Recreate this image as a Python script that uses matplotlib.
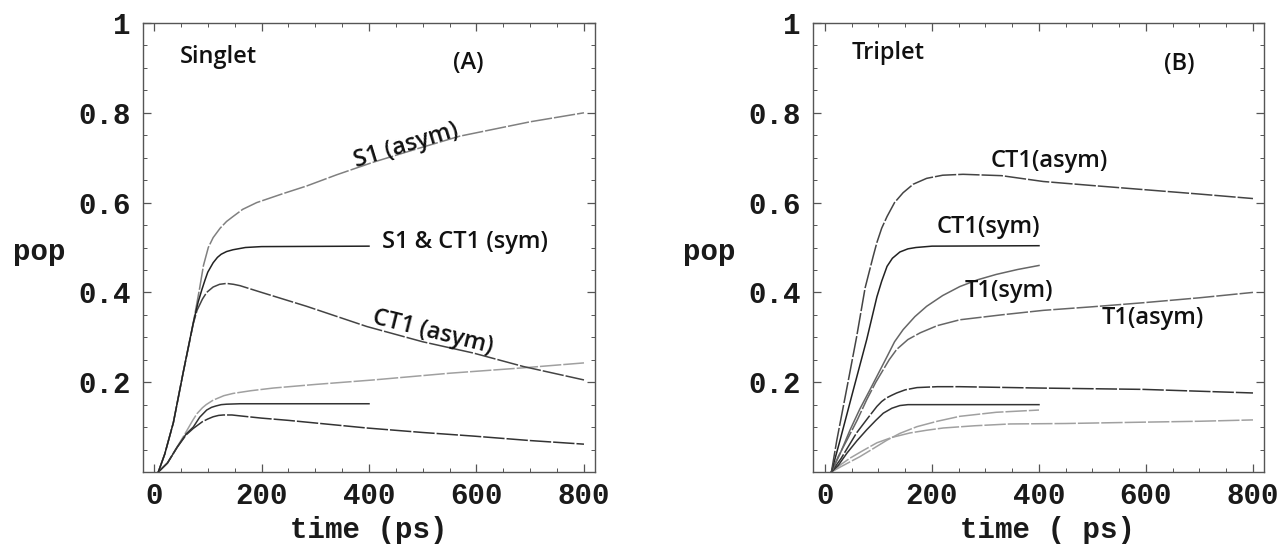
import matplotlib
matplotlib.use("Agg")
import matplotlib.pyplot as plt
from matplotlib.ticker import MultipleLocator, FixedLocator

# ---------------- data ----------------
# Panel A: Singlet
A_S1_asym_t = [8, 20, 36, 54, 73, 85, 92, 101, 110, 123, 135, 147, 165, 191, 240, 284, 340, 408, 490, 569, 700, 800]
A_S1_asym_y = [0, 0.04, 0.11, 0.22, 0.332, 0.41, 0.46, 0.50, 0.522, 0.543, 0.558, 0.569, 0.585, 0.60, 0.62, 0.637, 0.662, 0.69, 0.72, 0.748, 0.78, 0.80]

A_sym_t = [8, 20, 36, 54, 73, 82, 89, 95, 100, 110, 118, 125, 135, 147, 170, 200, 400]
A_sym_y = [0, 0.04, 0.11, 0.22, 0.332, 0.378, 0.406, 0.428, 0.445, 0.466, 0.478, 0.485, 0.491, 0.495, 0.50, 0.502, 0.503]

A_CT1_asym_t = [8, 20, 36, 54, 73, 80, 90, 98, 110, 122, 135, 148, 160, 200, 284, 396, 500, 594, 687, 800]
A_CT1_asym_y = [0, 0.04, 0.11, 0.22, 0.33, 0.36, 0.385, 0.40, 0.412, 0.418, 0.42, 0.418, 0.415, 0.40, 0.369, 0.324, 0.29, 0.265, 0.235, 0.205]

A_low_dash_t = [8, 25, 43, 60, 72, 80, 90, 97, 110, 130, 147, 180, 222, 300, 408, 550, 687, 800]
A_low_dash_y = [0, 0.02, 0.056, 0.09, 0.115, 0.13, 0.143, 0.15, 0.16, 0.17, 0.175, 0.181, 0.187, 0.195, 0.205, 0.22, 0.232, 0.243]

A_low_flat_t = [8, 25, 43, 60, 73, 85, 98, 107, 115, 125, 135, 160, 400]
A_low_flat_y = [0, 0.02, 0.055, 0.085, 0.10, 0.122, 0.138, 0.144, 0.147, 0.15, 0.151, 0.152, 0.152]

A_low_decr_t = [8, 25, 43, 60, 73, 90, 100, 110, 120, 129, 145, 160, 200, 250, 396, 500, 594, 700, 800]
A_low_decr_y = [0, 0.02, 0.055, 0.083, 0.097, 0.112, 0.118, 0.123, 0.126, 0.127, 0.127, 0.125, 0.12, 0.115, 0.098, 0.088, 0.08, 0.07, 0.062]

# Panel B: Triplet
B_CT1_asym_t = [12, 22, 43, 59, 75, 90, 97, 106, 116, 130, 146, 165, 190, 220, 258, 330, 408, 500, 595, 700, 800]
B_CT1_asym_y = [0, 0.07, 0.2, 0.3, 0.41, 0.48, 0.511, 0.543, 0.569, 0.60, 0.622, 0.641, 0.654, 0.661, 0.663, 0.66, 0.647, 0.638, 0.629, 0.619, 0.609]

B_CT1_sym_t = [12, 28, 53, 78, 90, 97, 106, 116, 126, 140, 155, 170, 200, 400]
B_CT1_sym_y = [0, 0.07, 0.183, 0.295, 0.355, 0.39, 0.425, 0.458, 0.476, 0.49, 0.497, 0.50, 0.503, 0.504]

B_T1_sym_t = [12, 28, 47, 65, 84, 100, 116, 130, 146, 168, 190, 220, 252, 285, 320, 360, 400]
B_T1_sym_y = [0, 0.04, 0.094, 0.14, 0.183, 0.22, 0.257, 0.29, 0.317, 0.346, 0.369, 0.393, 0.413, 0.428, 0.44, 0.451, 0.46]

B_T1_asym_t = [12, 25, 41, 60, 78, 95, 109, 120, 134, 155, 178, 210, 252, 330, 408, 500, 595, 700, 800]
B_T1_asym_y = [0, 0.035, 0.071, 0.115, 0.161, 0.2, 0.228, 0.25, 0.273, 0.295, 0.31, 0.326, 0.339, 0.35, 0.36, 0.368, 0.377, 0.388, 0.40]

B_low1_t = [12, 30, 59, 80, 97, 106, 115, 125, 134, 150, 172, 210, 252, 400, 595, 800]
B_low1_y = [0, 0.03, 0.087, 0.12, 0.146, 0.157, 0.165, 0.171, 0.176, 0.183, 0.188, 0.19, 0.19, 0.187, 0.184, 0.176]

B_low2_t = [12, 25, 41, 60, 78, 95, 109, 125, 140, 155, 170, 250, 400]
B_low2_y = [0, 0.015, 0.042, 0.07, 0.094, 0.115, 0.131, 0.142, 0.148, 0.15, 0.15, 0.15, 0.15]

B_low3_t = [12, 30, 65, 90, 116, 140, 172, 210, 252, 320, 400]
B_low3_y = [0, 0.012, 0.034, 0.052, 0.071, 0.086, 0.101, 0.113, 0.124, 0.133, 0.138]

B_low4_t = [12, 30, 47, 70, 97, 125, 159, 190, 221, 280, 346, 450, 595, 700, 800]
B_low4_y = [0, 0.017, 0.031, 0.047, 0.065, 0.077, 0.087, 0.093, 0.098, 0.103, 0.107, 0.108, 0.111, 0.113, 0.116]

x_ticks = [0, 200, 400, 600, 800]
x_tick_labels = ["0", "200", "400", "600", "800"]
y_ticks = [0.2, 0.4, 0.6, 0.8, 1.0]
y_tick_labels = ["0.2", "0.4", "0.6", "0.8", "1"]

# ---------------- figure ----------------
W, H = 1282, 545
fig = plt.figure(figsize=(W / 100, H / 100), dpi=100)

mono = "Liberation Mono"
sans = "Open Sans"
tick_fs = 21
ann_fs = 17
DASH = (0, (14, 1.3))

def px_axes(x0, x1, y_top, y_bot):
    return [x0 / W, 1 - y_bot / H, (x1 - x0) / W, (y_bot - y_top) / H]

axA = fig.add_axes(px_axes(143, 595, 23, 472))
axB = fig.add_axes(px_axes(813, 1264, 23, 472))

def style(ax, xlim):
    ax.set_xlim(*xlim)
    ax.set_ylim(0, 1)
    ax.xaxis.set_major_locator(FixedLocator(x_ticks))
    ax.set_xticklabels(x_tick_labels)
    ax.yaxis.set_major_locator(FixedLocator(y_ticks))
    ax.set_yticklabels(y_tick_labels)
    ax.xaxis.set_minor_locator(MultipleLocator(50))
    ax.yaxis.set_minor_locator(MultipleLocator(0.05))
    ax.tick_params(which="both", direction="in", top=True, right=True, color="#555555")
    ax.tick_params(which="major", length=6, width=0.9)
    ax.tick_params(which="minor", length=3, width=0.7)
    ax.tick_params(axis="x", which="major", pad=7)
    ax.tick_params(axis="y", which="major", pad=9)
    for lab in ax.get_xticklabels() + ax.get_yticklabels():
        lab.set_fontfamily(mono)
        lab.set_fontweight("bold")
        lab.set_fontsize(tick_fs)
        lab.set_color("#1a1a1a")
    for sp in ax.spines.values():
        sp.set_linewidth(1.0)
        sp.set_color("#555555")

style(axA, (-20.5, 820.5))
style(axB, (-22.4, 820.6))

lw = 1.1
# Panel A curves
axA.plot(A_low_dash_t, A_low_dash_y, color="#a0a0a0", lw=lw, ls=DASH)
axA.plot(A_low_flat_t, A_low_flat_y, color="#333333", lw=lw)
axA.plot(A_low_decr_t, A_low_decr_y, color="#333333", lw=lw, ls=DASH)
axA.plot(A_CT1_asym_t, A_CT1_asym_y, color="#444444", lw=lw, ls=DASH)
axA.plot(A_S1_asym_t, A_S1_asym_y, color="#808080", lw=lw, ls=DASH)
axA.plot(A_sym_t, A_sym_y, color="#222222", lw=lw)

# Panel B curves
axB.plot(B_low4_t, B_low4_y, color="#a0a0a0", lw=lw, ls=DASH)
axB.plot(B_low3_t, B_low3_y, color="#a0a0a0", lw=lw, ls=DASH)
axB.plot(B_low2_t, B_low2_y, color="#333333", lw=lw)
axB.plot(B_low1_t, B_low1_y, color="#333333", lw=lw, ls=DASH)
axB.plot(B_T1_asym_t, B_T1_asym_y, color="#666666", lw=lw, ls=DASH)
axB.plot(B_T1_sym_t, B_T1_sym_y, color="#666666", lw=lw)
axB.plot(B_CT1_sym_t, B_CT1_sym_y, color="#222222", lw=lw)
axB.plot(B_CT1_asym_t, B_CT1_asym_y, color="#444444", lw=lw, ls=DASH)

# Annotations
ann = dict(fontfamily=sans, fontsize=ann_fs, color="#111111", fontweight="semibold")
axA.text(48, 0.924, "Singlet", ha="left", va="center", **ann)
axA.text(584, 0.911, "(A)", ha="center", va="center", **ann)
axA.text(470, 0.726, "S1 (asym)", ha="center", va="center", rotation=17, **ann)
axA.text(424, 0.513, "S1 & CT1 (sym)", ha="left", va="center", **ann)
axA.text(519, 0.312, "CT1 (asym)", ha="center", va="center", rotation=-14, **ann)

axB.text(50, 0.933, "Triplet", ha="left", va="center", **ann)
axB.text(662, 0.908, "(B)", ha="center", va="center", **ann)
axB.text(420, 0.692, "CT1(asym)", ha="center", va="center", **ann)
axB.text(305, 0.545, "CT1(sym)", ha="center", va="center", **ann)
axB.text(343, 0.404, "T1(sym)", ha="center", va="center", **ann)
axB.text(612, 0.343, "T1(asym)", ha="center", va="center", **ann)

# Axis labels
lab = dict(fontfamily=mono, fontweight="bold", fontsize=tick_fs, color="#1a1a1a")
axA.text(-0.230, 0.49, "pop", transform=axA.transAxes, ha="center", va="center", **lab)
axB.text(-0.2295, 0.49, "pop", transform=axB.transAxes, ha="center", va="center", **lab)
axA.text(0.5, -0.129, "time (ps)", transform=axA.transAxes, ha="center", va="center", **lab)
axB.text(0.519, -0.129, "time ( ps)", transform=axB.transAxes, ha="center", va="center", **lab)

fig.savefig("out.png", dpi=100, facecolor="white")
